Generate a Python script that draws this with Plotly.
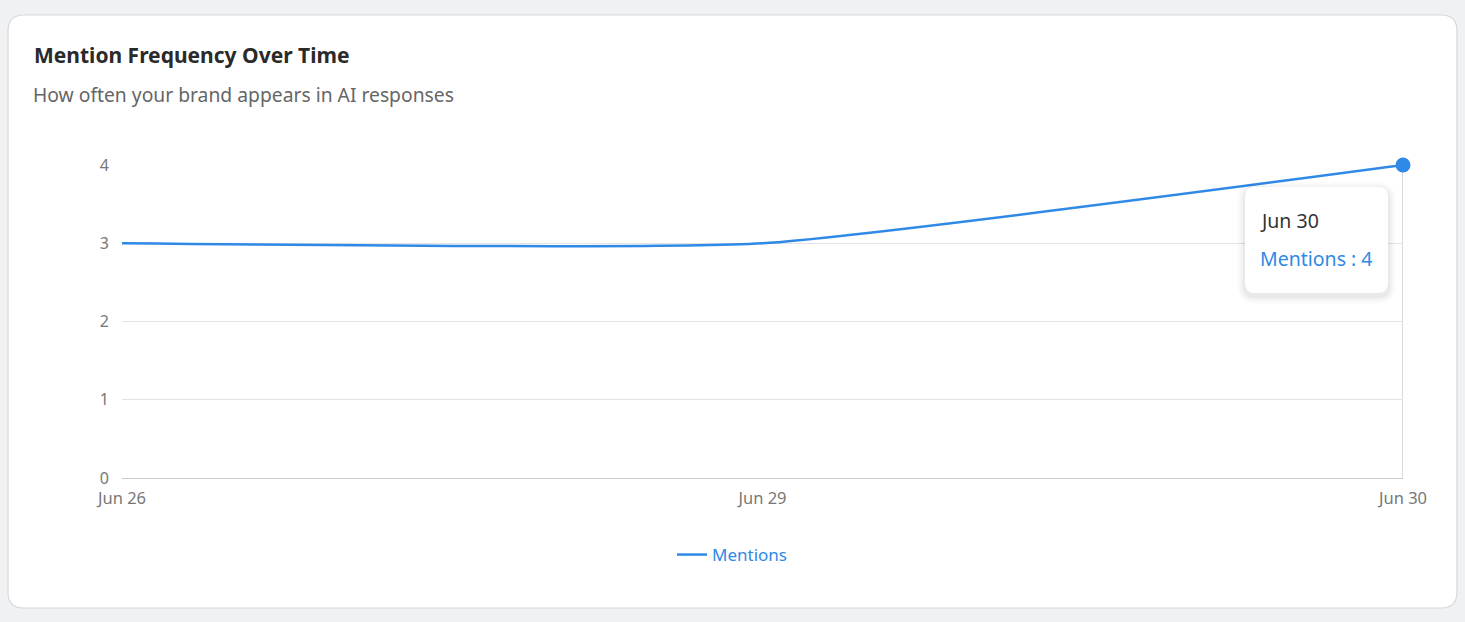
#!/usr/bin/env python3
"""
Mention frequency over time - brand mentions in AI responses.
"""

import plotly.graph_objects as go

# data
dates = ["Jun 26", "Jun 29", "Jun 30"]
mentions = [3, 3, 4]
y_ticks = [0, 1, 2, 3, 4]

title = "Mention Frequency Over Time"
subtitle = "How often your brand appears in AI responses"
series_name = "Mentions"

W, H = 1465, 622
L, R, T, B = 122, 1403, 165, 478  # plot area in page pixels

BLUE = "#2f89e6"
FONT = "Noto Sans, Open Sans, sans-serif"


def px_x(x):
    return (x - L) / (R - L)


def px_y(y):
    return (B - y) / (B - T)


def rounded_rect(x0, y0, x1, y1, r):
    """SVG path of a rounded rectangle, pixel coords converted to paper."""
    pts = [
        f"M {px_x(x0 + r)},{px_y(y0)}",
        f"L {px_x(x1 - r)},{px_y(y0)}",
        f"Q {px_x(x1)},{px_y(y0)} {px_x(x1)},{px_y(y0 + r)}",
        f"L {px_x(x1)},{px_y(y1 - r)}",
        f"Q {px_x(x1)},{px_y(y1)} {px_x(x1 - r)},{px_y(y1)}",
        f"L {px_x(x0 + r)},{px_y(y1)}",
        f"Q {px_x(x0)},{px_y(y1)} {px_x(x0)},{px_y(y1 - r)}",
        f"L {px_x(x0)},{px_y(y0 + r)}",
        f"Q {px_x(x0)},{px_y(y0)} {px_x(x0 + r)},{px_y(y0)}",
        "Z",
    ]
    return " ".join(pts)


fig = go.Figure()

fig.add_trace(go.Scatter(
    x=dates,
    y=mentions,
    mode="lines",
    name=series_name,
    line=dict(color=BLUE, width=2.5, shape="spline", smoothing=0.45),
    cliponaxis=False,
))

# active point (hovered)
fig.add_trace(go.Scatter(
    x=[dates[-1]],
    y=[mentions[-1]],
    mode="markers",
    marker=dict(color=BLUE, size=15),
    showlegend=False,
    cliponaxis=False,
))

shapes = []

# card background
shapes.append(dict(
    type="path", xref="paper", yref="paper", layer="below",
    path=rounded_rect(8, 15, 1457, 608, 16),
    fillcolor="white", line=dict(color="#d6d8db", width=1.2),
))

# hover cursor line
shapes.append(dict(
    type="line", xref="x", yref="y", layer="below",
    x0=dates[-1], x1=dates[-1], y0=0, y1=mentions[-1],
    line=dict(color="#cccccc", width=1.5),
))

# tooltip shadow + box
for i, op in enumerate([0.012, 0.018, 0.025, 0.03]):
    g = 8 - i * 2
    shapes.append(dict(
        type="path", xref="paper", yref="paper", layer="above",
        path=rounded_rect(1245 - g, 187 - g + 3, 1388 + g, 293 + g + 3, 10 + g),
        fillcolor=f"rgba(0,0,0,{op})", line=dict(width=0),
    ))
shapes.append(dict(
    type="path", xref="paper", yref="paper", layer="above",
    path=rounded_rect(1245, 187, 1388, 293, 10),
    fillcolor="white", line=dict(width=0),
))

annotations = [
    dict(text=f"<b>{title}</b>", x=px_x(32), y=px_y(55), xref="paper", yref="paper",
         xanchor="left", yanchor="middle", showarrow=False,
         font=dict(size=21, color="#2a2a2a", family=FONT)),
    dict(text=subtitle, x=px_x(31), y=px_y(94), xref="paper", yref="paper",
         xanchor="left", yanchor="middle", showarrow=False,
         font=dict(size=19.3, color="#666666", family=FONT)),
    dict(text=dates[-1], x=px_x(1258), y=px_y(220), xref="paper", yref="paper",
         xanchor="left", yanchor="middle", showarrow=False,
         font=dict(size=19.5, color="#333333", family=FONT)),
    dict(text=f"{series_name} : {mentions[-1]}", x=px_x(1258), y=px_y(258),
         xref="paper", yref="paper", xanchor="left", yanchor="middle", showarrow=False,
         font=dict(size=19.5, color=BLUE, family=FONT)),
]

fig.update_layout(
    width=W,
    height=H,
    margin=dict(l=L, r=W - R, t=T, b=H - B, pad=0),
    paper_bgcolor="#f0f1f3",
    plot_bgcolor="rgba(0,0,0,0)",
    font=dict(family=FONT, size=16, color="#777777"),
    showlegend=True,
    legend=dict(
        orientation="h", x=px_x(732), y=px_y(555), xanchor="center", yanchor="middle",
        font=dict(size=17, color=BLUE), bgcolor="rgba(0,0,0,0)",
    ),
    shapes=shapes,
    annotations=annotations,
    hovermode=False,
)

fig.update_xaxes(
    type="category",
    range=[0, len(dates) - 1],
    showgrid=False,
    showline=True, linecolor="#cccccc", linewidth=1.2,
    ticks="", ticklabelstandoff=5,
    tickfont=dict(size=16.5, color="#777777"),
    zeroline=False,
    fixedrange=True,
)
fig.update_yaxes(
    range=[0, 4],
    tickvals=y_ticks,
    showgrid=True, gridcolor="#e3e3e3", gridwidth=1.2,
    showline=False, zeroline=False,
    ticks="", ticklabelstandoff=12,
    tickfont=dict(size=16, color="#777777"),
    fixedrange=True,
)

fig.write_html(
    "out.html",
    config={"displayModeBar": False},
    post_script="document.body.style.margin='0';document.body.style.background='#f0f1f3';",
)
